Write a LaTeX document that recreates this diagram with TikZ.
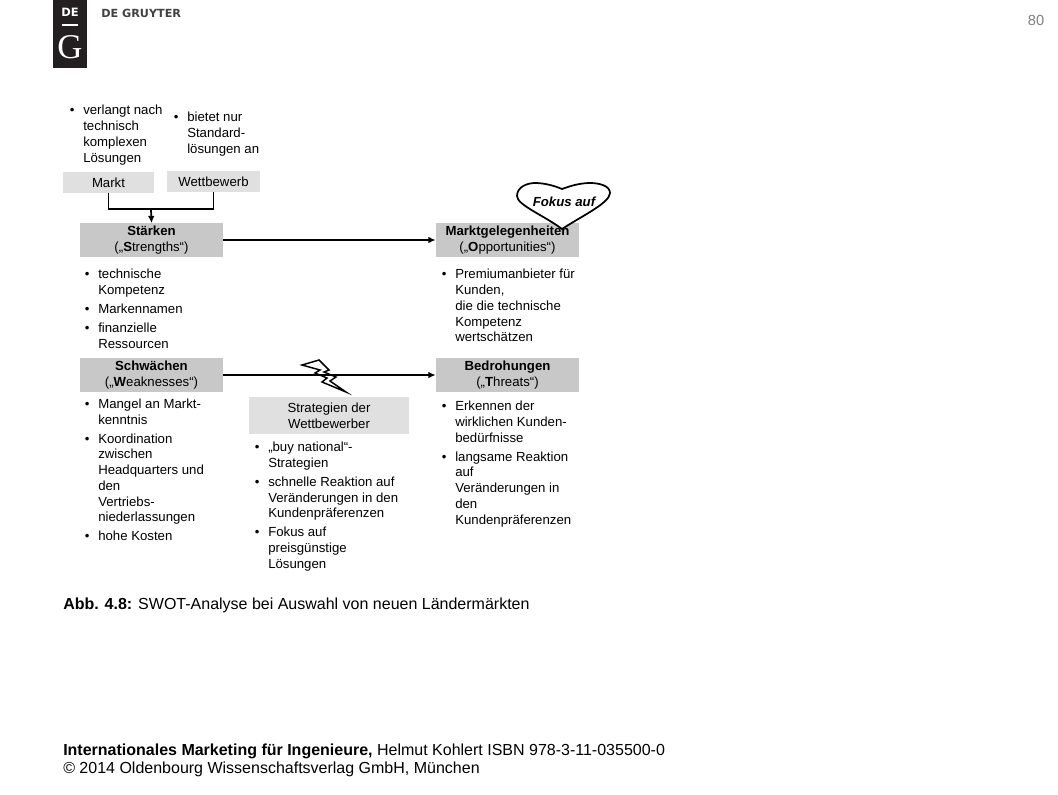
\documentclass[tikz,border=0pt]{standalone}
\usepackage{fontspec}
\setmainfont{Liberation Sans}
\newfontfamily\logoserif{Liberation Serif}
\newfontfamily\logosans{DejaVu Sans}
\usepackage{xcolor}
\usepackage{tikz}
\usetikzlibrary{positioning, arrows.meta}

\definecolor{boxlight}{HTML}{E0E0E0}
\definecolor{boxdark}{HTML}{C8C8C8}
\definecolor{logoblack}{HTML}{231F20}

% bullet hanging left of the first line
\newcommand{\bul}{\llap{\textbullet\hspace{6.6pt}}}

\begin{document}
\begin{tikzpicture}[
    x=0.75pt, y=-0.75pt,
    font=\fontsize{9.9pt}{11.8pt}\selectfont,
    >={Latex[length=5.5pt,width=5pt]},
    light/.style={
        rectangle, fill=boxlight, inner sep=0pt,
        align=center
    },
    dark/.style={
        rectangle, fill=boxdark, inner sep=0pt,
        minimum width=107.3pt, minimum height=24.8pt,
        align=center
    },
    itemlist/.style={anchor=north west, inner sep=0pt, align=left},
    arrow/.style={->, line width=1.3pt},
    foot/.style={anchor=west, inner sep=0pt, font=\fontsize{12pt}{14pt}\selectfont},
]
\useasboundingbox (0,0) rectangle (1058,794);

% ---------- Logo ----------
\node[fill=logoblack, minimum width=25.5pt, minimum height=51pt, inner sep=0pt] (logo) at (70,34) {};
\node[text=white, inner sep=0pt, font=\logosans\bfseries\fontsize{8.6pt}{9pt}\selectfont] (logoDE) at (70,12.5) {DE};
\node[text=white, inner sep=0pt, font=\logoserif\fontsize{26pt}{28pt}\selectfont] (logoG) at (70,47) {G};
\draw[white, line width=0.8pt] (62,25) -- (78,25);
\node[anchor=west, inner sep=0pt, text=logoblack!85, font=\logosans\bfseries\fontsize{8.4pt}{9pt}\selectfont] (publisher) at (101,13) {DE GRUYTER};
\node[text=black!50, inner sep=0pt, font=\fontsize{11pt}{13pt}\selectfont] (pagenum) at (1036,20) {80};

% ---------- Market and competition ----------
\node[itemlist] (marktlist) at (83,105) {\bul verlangt nach\\technisch\\komplexen\\Lösungen};
\node[itemlist] (wettlist) at (187,112) {\bul bietet nur\\Standard-\\lösungen an};
\node[light, minimum width=68.5pt, minimum height=15.8pt] (markt) at (108.5,182.5) {Markt};
\node[light, minimum width=69.8pt, minimum height=15.8pt] (wettbewerb) at (213.5,181.5) {Wettbewerb};

% ---------- SWOT boxes ----------
\node[dark] (staerken) at (151.5,240) {\textbf{Stärken}\\(„\textbf{S}trengths“)};
\node[dark] (chancen) at (507.5,240) {\textbf{Marktgelegenheiten}\\(„\textbf{O}pportunities“)};
\node[dark] (schwaechen) at (151.5,375) {\textbf{Schwächen}\\(„\textbf{W}eaknesses“)};
\node[dark] (bedrohungen) at (507.5,375) {\textbf{Bedrohungen}\\(„\textbf{T}hreats“)};
\node[light, minimum width=120pt, minimum height=27.8pt] (strategien) at (329,415.5) {Strategien der\\Wettbewerber};

% ---------- Lists ----------
\node[itemlist] (staerkenlist) at (98,269) {\bul technische\\Kompetenz\\[2.5pt]\bul Markennamen\\[2.5pt]\bul finanzielle\\Ressourcen};
\node[itemlist] (chancenlist) at (455,269) {\bul Premiumanbieter für\\Kunden,\\die die technische\\Kompetenz\\wertschätzen};
\node[itemlist] (schwaechenlist) at (98,399) {\bul Mangel an Markt-\\kenntnis\\[2.1pt]\bul Koordination\\zwischen\\Headquarters und\\den\\Vertriebs-\\niederlassungen\\[2.1pt]\bul hohe Kosten};
\node[itemlist] (bedrohungenlist) at (455,401) {\bul Erkennen der\\wirklichen Kunden-\\bedürfnisse\\[2.3pt]\bul langsame Reaktion\\auf\\Veränderungen in\\den\\Kundenpräferenzen};
\node[itemlist] (strategienlist) at (268,442) {\bul „buy national“-\\Strategien\\[2.3pt]\bul schnelle Reaktion auf\\Veränderungen in den\\Kundenpräferenzen\\[2.3pt]\bul Fokus auf\\preisgünstige\\Lösungen};

% ---------- Connectors ----------
\coordinate (merge) at (151,209);
\draw[line width=1.3pt] (markt.south) |- (merge) -| (wettbewerb.south);
\draw[arrow] (merge) -- (staerken.north);
\draw[arrow] (staerken) -- (chancen);
\draw[arrow] (schwaechen) -- (bedrohungen);

% ---------- Heart ----------
\coordinate (hearttip) at (562,229);
\draw[line width=1.3pt, fill=white] (hearttip) .. controls (545,216) and (517,205) .. (517,196)
    .. controls (517,187) and (527,183) .. (535,183)
    .. controls (545,183) and (555,186) .. (562,189)
    .. controls (570,186) and (580,183) .. (590,183)
    .. controls (600,183) and (610,186) .. (610,193)
    .. controls (610,203) and (580,217) .. (hearttip) -- cycle;
\node[inner sep=0pt, font=\fontsize{9.9pt}{11.8pt}\selectfont\bfseries\itshape] (fokus) at (564,202) {Fokus auf};

% ---------- Lightning ----------
\draw[line width=1.1pt, line join=miter] (302,365) -- (319,360) -- (329,370) -- (324,372) -- (336,377) -- (330,381) -- (346,392)
    -- (322,382) -- (327,378) -- (315,373) -- (320,370) -- cycle;

% ---------- Caption and footer ----------
\node[foot, font=\fontsize{12pt}{14pt}\selectfont] (caption) at (63,605) {\textbf{Abb. 4.8:} SWOT-Analyse bei Auswahl von neuen Ländermärkten};
\node[foot] (footbook) at (63,751) {\textbf{Internationales Marketing für Ingenieure,} Helmut Kohlert ISBN 978-3-11-035500-0};
\node[foot] (footcopy) at (63,769) {© 2014 Oldenbourg Wissenschaftsverlag GmbH, München};

\end{tikzpicture}
\end{document}
